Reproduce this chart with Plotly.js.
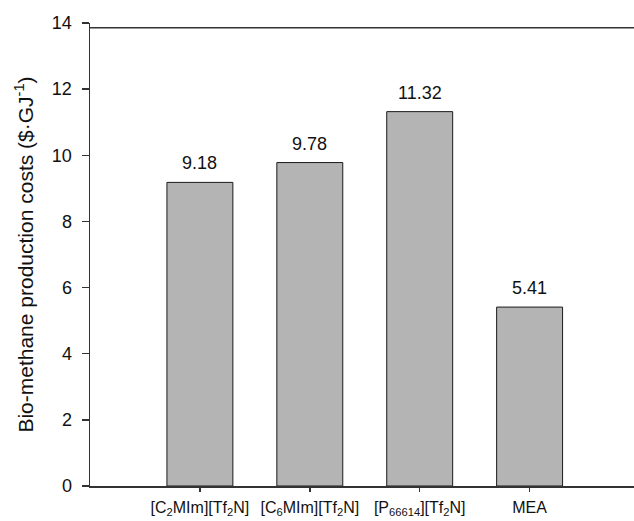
<!DOCTYPE html>
<html>
<head>
<meta charset="utf-8">
<script src="https://cdn.plot.ly/plotly-3.0.1.min.js"></script>
<style>html,body{margin:0;padding:0;background:#fff;}#chart{width:634px;height:521px;}</style>
</head>
<body>
<div id="chart"></div>
<script>
var categories = ["[C<sub>2</sub>MIm][Tf<sub>2</sub>N]", "[C<sub>6</sub>MIm][Tf<sub>2</sub>N]", "[P<sub>66614</sub>][Tf<sub>2</sub>N]", "MEA"];
var costs = [9.18, 9.78, 11.32, 5.41];
var costLabels = ["9.18", "9.78", "11.32", "5.41"];
var yTicks = [0, 2, 4, 6, 8, 10, 12, 14];

var font = "Arial, 'Liberation Sans', sans-serif";
var axisColor = "#333333";

var trace = {
  type: "bar",
  x: categories,
  y: costs,
  width: 0.6,
  marker: {color: "#b4b4b4", line: {color: "#1a1a1a", width: 1}},
  hoverinfo: "none"
};

var annotations = categories.map(function (c, i) {
  return {
    x: c, y: costs[i], xref: "x", yref: "y",
    text: costLabels[i], showarrow: false,
    yanchor: "bottom", yshift: 7,
    font: {family: font, size: 18, color: "#111111"}
  };
});

var layout = {
  width: 634, height: 521,
  margin: {l: 90, r: 0, t: 23, b: 35},
  paper_bgcolor: "#ffffff", plot_bgcolor: "#ffffff",
  showlegend: false,
  bargap: 0.4,
  xaxis: {
    type: "category",
    categoryorder: "array", categoryarray: categories,
    range: [-1, 3.95],
    showgrid: false, zeroline: false,
    showline: true, linecolor: axisColor, linewidth: 1.5,
    ticks: "outside", ticklen: 4, tickwidth: 1.5, tickcolor: axisColor,
    ticklabelstandoff: 2,
    tickfont: {family: font, size: 16, color: "#111111"},
    fixedrange: true
  },
  yaxis: {
    range: [0, 14],
    tickvals: yTicks,
    showgrid: false, zeroline: false,
    showline: true, linecolor: axisColor, linewidth: 1.5,
    ticks: "outside", ticklen: 7, tickwidth: 1.5, tickcolor: axisColor,
    ticklabelstandoff: 6,
    tickfont: {family: font, size: 18, color: "#111111"},
    title: {text: "Bio-methane production costs ($·GJ<sup>-1</sup>)", font: {family: font, size: 21, color: "#111111"}, standoff: 12},
    fixedrange: true
  },
  shapes: [{
    type: "line", xref: "paper", yref: "paper",
    x0: 0, x1: 1, y0: 0.99, y1: 0.99,
    line: {color: axisColor, width: 1.5}
  }],
  annotations: annotations
};

Plotly.newPlot("chart", [trace], layout, {displayModeBar: false, staticPlot: true});
</script>
</body>
</html>
